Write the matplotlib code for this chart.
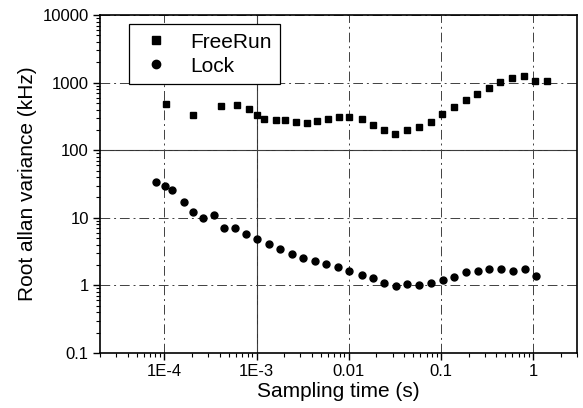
import matplotlib.pyplot as plt
from matplotlib.ticker import LogLocator, FixedLocator, FixedFormatter, NullFormatter

plt.rcParams['font.family'] = ['Liberation Sans', 'DejaVu Sans']

# values
freerun_t = [1.04e-4, 2.06e-4, 4.1e-4, 6.2e-4, 8.3e-4, 1.0e-3, 1.2e-3, 1.62e-3, 2.03e-3, 2.65e-3,
             3.5e-3, 4.5e-3, 5.9e-3, 7.8e-3, 0.0101, 0.0139, 0.0182, 0.024, 0.0319, 0.043,
             0.0577, 0.0778, 0.104, 0.139, 0.187, 0.25, 0.331, 0.44, 0.588, 0.794, 1.06, 1.43]
freerun_v = [478, 335, 446, 471, 406, 328, 286, 280, 280, 261,
             257, 267, 290, 314, 311, 290, 239, 201, 174, 201,
             218, 264, 340, 431, 553, 678, 832, 1030, 1183, 1253, 1056, 1056]

lock_t = [8.1e-5, 1.02e-4, 1.21e-4, 1.62e-4, 2.02e-4, 2.64e-4, 3.45e-4, 4.46e-4, 5.8e-4, 7.66e-4,
          1.02e-3, 1.35e-3, 1.79e-3, 2.4e-3, 3.18e-3, 4.26e-3, 5.74e-3, 7.6e-3, 0.0101, 0.0138,
          0.0184, 0.0244, 0.0324, 0.0434, 0.058, 0.0784, 0.106, 0.14, 0.188, 0.254,
          0.337, 0.45, 0.607, 0.813, 1.08]
lock_v = [33.5, 29.5, 25.8, 17.1, 12.1, 10.0, 11.1, 7.14, 7.14, 5.75,
          4.91, 4.1, 3.49, 2.94, 2.54, 2.32, 2.07, 1.85, 1.63, 1.44,
          1.29, 1.09, 0.99, 1.03, 1.01, 1.09, 1.19, 1.35, 1.6, 1.63,
          1.75, 1.75, 1.62, 1.73, 1.39]

x_ticks = [1e-4, 1e-3, 1e-2, 1e-1, 1]
x_labels = ['1E-4', '1E-3', '0.01', '0.1', '1']
y_ticks = [0.1, 1, 10, 100, 1000, 10000]
y_labels = ['0.1', '1', '10', '100', '1000', '10000']

fig = plt.figure(figsize=(5.83, 4.08), dpi=100)
ax = fig.add_axes([0.1715, 0.135, 0.818, 0.828])

ax.set_xscale('log')
ax.set_yscale('log')
ax.set_xlim(2e-5, 3)
ax.set_ylim(0.1, 10000)

# dash-dot grid like the original, two of the lines come out solid
ax.grid(True, which='major', color='0.25', lw=0.7, linestyle=(0, (10, 4, 2, 4)))
ax.axhline(100, color='0.2', lw=0.8, zorder=1)
ax.axvline(1e-3, color='0.2', lw=0.8, zorder=1)

ax.plot(freerun_t, freerun_v, 's', color='black', markersize=4.3, label='FreeRun', zorder=3)
ax.plot(lock_t, lock_v, 'o', color='black', markersize=5, label='Lock', zorder=3)

ax.xaxis.set_major_locator(FixedLocator(x_ticks))
ax.xaxis.set_major_formatter(FixedFormatter(x_labels))
ax.xaxis.set_minor_locator(LogLocator(base=10, subs=range(2, 10), numticks=20))
ax.xaxis.set_minor_formatter(NullFormatter())
ax.yaxis.set_major_locator(FixedLocator(y_ticks))
ax.yaxis.set_major_formatter(FixedFormatter(y_labels))
ax.yaxis.set_minor_locator(LogLocator(base=10, subs=range(2, 10), numticks=20))
ax.yaxis.set_minor_formatter(NullFormatter())

ax.tick_params(which='major', direction='out', length=5, width=1, labelsize=12, pad=3,
               top=False, right=False)
ax.tick_params(which='minor', direction='out', length=3, width=0.8, top=False, right=False)
for s in ax.spines.values():
    s.set_linewidth(1.2)

ax.set_xlabel('Sampling time (s)', fontsize=15, labelpad=2)
ax.set_ylabel('Root allan variance (kHz)', fontsize=15, labelpad=4)

leg = ax.legend(loc='upper left', bbox_to_anchor=(0.061, 0.973), borderaxespad=0,
                fontsize=15, frameon=True, fancybox=False, edgecolor='black',
                handlelength=1.8, handletextpad=0.75, labelspacing=0.25, borderpad=0.4,
                markerscale=1.2)
leg.get_frame().set_linewidth(0.9)
leg.get_frame().set_alpha(1)

plt.savefig('out.png', dpi=100)
